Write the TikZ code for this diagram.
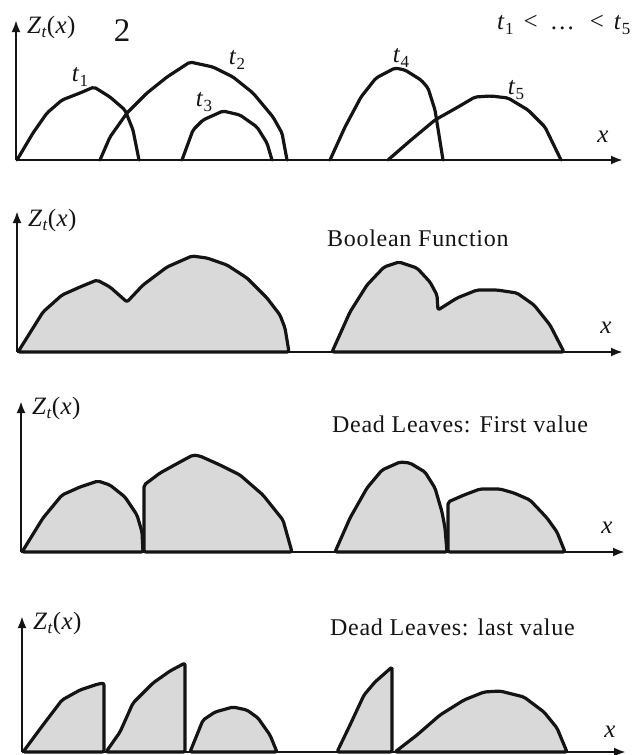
\documentclass[tikz,border=0pt]{standalone}
\usepackage{fontspec}
\setmainfont{Liberation Serif}
\newfontfamily\lsfont[LetterSpace=3]{Liberation Serif}
\usetikzlibrary{arrows.meta}
\definecolor{ink}{HTML}{141414}
\tikzset{
  axis/.style={line width=2.4pt, draw=ink, -{Latex[length=12pt,width=9pt]}},
  curve/.style={line width=3.2pt, draw=ink, line join=round, line cap=round, rounded corners=2pt},
  hump/.style={curve, fill=black!15},
  lbl/.style={font=\fontsize{25}{27}\selectfont, inner sep=0pt, text=ink},
  caption/.style={font=\lsfont\fontsize{24}{26}\selectfont, inner sep=0pt, anchor=base west, text=ink},
}
\newcommand\zlab{\textit{Z}\kern0.3pt\raisebox{-0.35ex}{\fontsize{17}{17}\selectfont\textit{t}}\kern0.3pt(\kern0.3pt\textit{x}\kern0.5pt)}
\newcommand\tsub[1]{\textit{t}\kern0.5pt\raisebox{-0.4ex}{\fontsize{17}{17}\selectfont #1}}
\begin{document}
\begin{tikzpicture}[x=1pt,y=-1pt]
\useasboundingbox (0,0) rectangle (637,755);
% ---------- panel 1 ----------
\coordinate (o1) at (16,160); \coordinate (y1) at (16,20); \coordinate (x1) at (623,160);
\draw[axis] (o1) -- (y1);
\draw[axis] (o1) -- (x1);
\draw[curve] (17,160)--(33,133)--(47,113)--(62,100)--(80,93)--(94,87)--(110,97)--(125,110)--(133,130)--(139,160);
\draw[curve] (100,160)--(110,137)--(127,113)--(147,93)--(167,77)--(190,62)--(213,67)--(233,77)--(253,93)--(273,117)--(282,133)--(287,160);
\draw[curve] (182,160)--(193,130)--(203,120)--(223,111)--(240,115)--(257,127)--(267,143)--(272,160);
\draw[curve] (330,160)--(345,127)--(361,97)--(376,78)--(395,68)--(405,70)--(421,80)--(428,88)--(435,110)--(443,160);
\draw[curve] (388,160)--(411,140)--(435,120)--(458,107)--(475,97)--(491,96)--(508,98)--(528,110)--(545,127)--(561,160);
\node[lbl, anchor=west] (z1) at (27,27) {\zlab};
\node[lbl, font=\fontsize{33}{35}\selectfont] (num) at (122,31) {2};
\node[lbl] (t1) at (80,77) {\tsub{1}};
\node[lbl] (t2) at (237,60) {\tsub{2}};
\node[lbl] (t3) at (204,102) {\tsub{3}};
\node[lbl] (t4) at (401,58) {\tsub{4}};
\node[lbl] (t5) at (516,90) {\tsub{5}};
\node[lbl, anchor=west] (ord) at (497,25) {\tsub{1}\hspace{10pt}<\hspace{12pt}\ldots\hspace{15pt}<\hspace{10pt}\tsub{5}};
\node[lbl] (xl1) at (603,137) {\textit{x}};
% ---------- panel 2 ----------
\coordinate (o2) at (17,352); \coordinate (y2) at (17,211); \coordinate (x2) at (623,352);
\draw[axis] (o2) -- (y2);
\draw[axis] (o2) -- (x2);
\draw[hump] (18,352)--(43,312)--(62,295)--(80,287)--(97,280)--(110,287)--(127,302)--(143,285)--(167,267)--(192,256)--(207,258)--(227,265)--(247,278)--(267,298)--(280,315)--(285,328)--(289,352)--cycle;
\draw[hump] (332,352)--(350,312)--(367,285)--(384,267)--(399,262)--(417,268)--(430,282)--(437,295)--(438,310)--(457,298)--(477,290)--(497,290)--(517,293)--(534,305)--(550,325)--(564,352)--cycle;
\node[lbl, anchor=west] (z2) at (28,220) {\zlab};
\node[caption] (cap2) at (327,246) {Boolean Function};
\node[lbl] (xl2) at (606,328) {\textit{x}};
% ---------- panel 3 ----------
\coordinate (o3) at (21,552); \coordinate (y3) at (21,401); \coordinate (x3) at (625,552);
\draw[axis] (o3) -- (y3);
\draw[axis] (o3) -- (x3);
\draw[hump] (22,552)--(43,518)--(62,495)--(80,487)--(98,481)--(110,485)--(125,497)--(137,515)--(142,532)--(143,552)--cycle;
\draw[hump] (144,552)--(144,485)--(160,473)--(180,462)--(193,455)--(200,456)--(220,465)--(240,475)--(263,495)--(283,520)--(292,552)--cycle;
\draw[hump] (335,552)--(350,518)--(367,488)--(382,470)--(400,462)--(410,463)--(425,472)--(435,488)--(442,512)--(445,528)--(447,552)--cycle;
\draw[hump] (448,552)--(448,502)--(464,495)--(480,489)--(500,489)--(514,493)--(530,500)--(547,518)--(557,532)--(565,552)--cycle;
\node[lbl, anchor=west] (z3) at (32,408) {\zlab};
\node[caption] (cap3) at (332,432) {Dead Leaves: First value};
\node[lbl] (xl3) at (607,528) {\textit{x}};
% ---------- panel 4 ----------
\coordinate (o4) at (22,752); \coordinate (y4) at (22,616); \coordinate (x4) at (626,752);
\draw[axis] (o4) -- (y4);
\draw[axis] (o4) -- (x4);
\draw[hump] (23,752)--(43,725)--(62,700)--(80,690)--(98,684)--(104,683)--(104,752)--cycle;
\draw[hump] (106,752)--(120,732)--(133,703)--(153,683)--(170,671)--(185,663)--(185,752)--cycle;
\draw[hump] (190,752)--(203,720)--(215,712)--(233,707)--(247,710)--(258,718)--(270,735)--(277,752)--cycle;
\draw[hump] (337,752)--(350,725)--(364,695)--(375,682)--(392,667)--(392,752)--cycle;
\draw[hump] (395,752)--(417,735)--(440,715)--(464,700)--(484,692)--(500,691)--(524,697)--(544,712)--(557,728)--(567,752)--cycle;
\node[lbl, anchor=west] (z4) at (33,623) {\zlab};
\node[caption] (cap4) at (330,635) {Dead Leaves: last value};
\node[lbl] (xl4) at (610,732) {\textit{x}};
\end{tikzpicture}
\end{document}
